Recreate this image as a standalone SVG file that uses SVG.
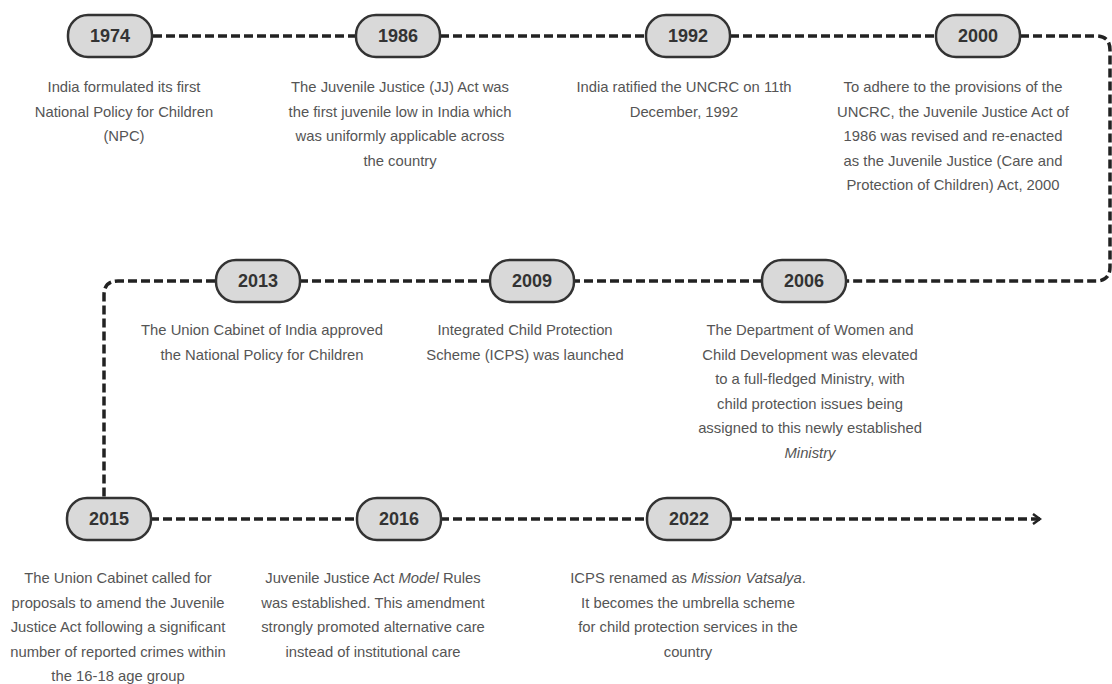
<svg xmlns="http://www.w3.org/2000/svg" width="1112" height="684" viewBox="0 0 1112 684">
<style>
.pill{fill:#d9d9d9;stroke:#333;stroke-width:2.5}
.yr{font-family:"Liberation Sans",Arial,sans-serif;font-weight:bold;font-size:18px;fill:#333;text-anchor:middle;dominant-baseline:central}
.desc{font-family:"Liberation Sans",Arial,sans-serif;font-size:14.8px;fill:#555;text-anchor:middle}
.ln{fill:none;stroke:#222;stroke-width:3.5;stroke-dasharray:9 4}
.it{font-style:italic}
</style>
<defs>
<marker id="arr" viewBox="0 0 10 12" refX="8" refY="6" markerWidth="10" markerHeight="12" markerUnits="userSpaceOnUse" orient="auto">
<path d="M1,1 L8,6 L1,11" fill="none" stroke="#222" stroke-width="2.5"/>
</marker>
</defs>
<rect width="1112" height="684" fill="#fff"/>
<g id="connectors">
<path class="ln" d="M153 36 H355"/>
<path class="ln" d="M440 36 H645"/>
<path class="ln" d="M730 36 H935"/>
<path class="ln" d="M1020 36 H1096 Q1110 36 1110 50 V267 Q1110 281 1096 281 H845"/>
<path class="ln" d="M762 281 H573"/>
<path class="ln" d="M490 281 H300"/>
<path class="ln" d="M215 281 H118 Q104 281 104 295 V497"/>
<path class="ln" d="M150 519 H357"/>
<path class="ln" d="M440 519 H645"/>
<path class="ln" d="M732 519 H1040" marker-end="url(#arr)"/>
</g>
<g id="n1974">
<rect class="pill" x="68" y="15" width="84" height="42" rx="20"/>
<text class="yr" x="110" y="36">1974</text>
<text class="desc" y="92"><tspan x="124">India formulated its first</tspan><tspan x="124" dy="24.5">National Policy for Children</tspan><tspan x="124" dy="24.5">(NPC)</tspan></text>
</g>
<g id="n1986">
<rect class="pill" x="356" y="15" width="84" height="42" rx="20"/>
<text class="yr" x="398" y="36">1986</text>
<text class="desc" y="92"><tspan x="400">The Juvenile Justice (JJ) Act was</tspan><tspan x="400" dy="24.5">the first juvenile low in India which</tspan><tspan x="400" dy="24.5">was uniformly applicable across</tspan><tspan x="400" dy="24.5">the country</tspan></text>
</g>
<g id="n1992">
<rect class="pill" x="646" y="15" width="84" height="42" rx="20"/>
<text class="yr" x="688" y="36">1992</text>
<text class="desc" y="92"><tspan x="684">India ratified the UNCRC on 11th</tspan><tspan x="684" dy="24.5">December, 1992</tspan></text>
</g>
<g id="n2000">
<rect class="pill" x="936" y="15" width="84" height="42" rx="20"/>
<text class="yr" x="978" y="36">2000</text>
<text class="desc" y="92"><tspan x="953">To adhere to the provisions of the</tspan><tspan x="953" dy="24.5">UNCRC, the Juvenile Justice Act of</tspan><tspan x="953" dy="24.5">1986 was revised and re-enacted</tspan><tspan x="953" dy="24.5">as the Juvenile Justice (Care and</tspan><tspan x="953" dy="24.5">Protection of Children) Act, 2000</tspan></text>
</g>
<g id="n2006">
<rect class="pill" x="762" y="260" width="84" height="42" rx="20"/>
<text class="yr" x="804" y="281">2006</text>
<text class="desc" y="335"><tspan x="810">The Department of Women and</tspan><tspan x="810" dy="24.5">Child Development was elevated</tspan><tspan x="810" dy="24.5">to a full-fledged Ministry, with</tspan><tspan x="810" dy="24.5">child protection issues being</tspan><tspan x="810" dy="24.5">assigned to this newly established</tspan><tspan x="810" dy="24.5" class="it">Ministry</tspan></text>
</g>
<g id="n2009">
<rect class="pill" x="490" y="260" width="84" height="42" rx="20"/>
<text class="yr" x="532" y="281">2009</text>
<text class="desc" y="335"><tspan x="525">Integrated Child Protection</tspan><tspan x="525" dy="24.5">Scheme (ICPS) was launched</tspan></text>
</g>
<g id="n2013">
<rect class="pill" x="216" y="260" width="84" height="42" rx="20"/>
<text class="yr" x="258" y="281">2013</text>
<text class="desc" y="335"><tspan x="262">The Union Cabinet of India approved</tspan><tspan x="262" dy="24.5">the National Policy for Children</tspan></text>
</g>
<g id="n2015">
<rect class="pill" x="67" y="498" width="84" height="42" rx="20"/>
<text class="yr" x="109" y="519">2015</text>
<text class="desc" y="583"><tspan x="118">The Union Cabinet called for</tspan><tspan x="118" dy="24.5">proposals to amend the Juvenile</tspan><tspan x="118" dy="24.5">Justice Act following a significant</tspan><tspan x="118" dy="24.5">number of reported crimes within</tspan><tspan x="118" dy="24.5">the 16-18 age group</tspan></text>
</g>
<g id="n2016">
<rect class="pill" x="357" y="498" width="84" height="42" rx="20"/>
<text class="yr" x="399" y="519">2016</text>
<text class="desc" y="583"><tspan x="373">Juvenile Justice Act <tspan class="it">Model</tspan> Rules</tspan><tspan x="373" dy="24.5">was established. This amendment</tspan><tspan x="373" dy="24.5">strongly promoted alternative care</tspan><tspan x="373" dy="24.5">instead of institutional care</tspan></text>
</g>
<g id="n2022">
<rect class="pill" x="647" y="498" width="84" height="42" rx="20"/>
<text class="yr" x="689" y="519">2022</text>
<text class="desc" y="583"><tspan x="688">ICPS renamed as <tspan class="it">Mission Vatsalya</tspan>.</tspan><tspan x="688" dy="24.5">It becomes the umbrella scheme</tspan><tspan x="688" dy="24.5">for child protection services in the</tspan><tspan x="688" dy="24.5">country</tspan></text>
</g>
</svg>
